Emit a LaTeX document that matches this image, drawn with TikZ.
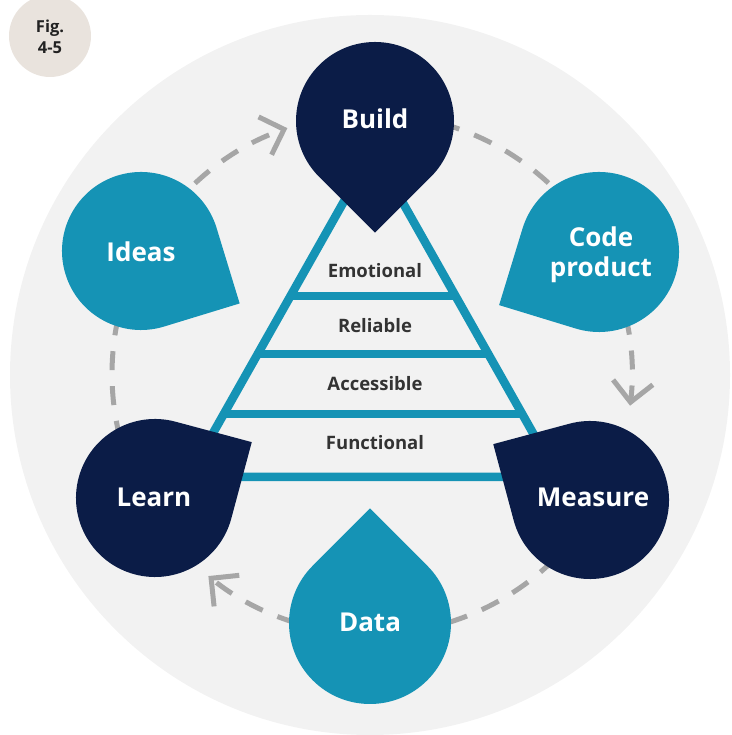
\documentclass[tikz,border=0pt]{standalone}
\usepackage{fontspec}
\setmainfont{Open Sans}
\usetikzlibrary{calc,arrows.meta}
\definecolor{navy}{HTML}{0B1C47}
\definecolor{teal1}{HTML}{1593B5}
\definecolor{bgcirc}{HTML}{F2F2F2}
\definecolor{badge}{HTML}{E9E3DD}
\definecolor{dashgrey}{HTML}{A6A6A6}
\definecolor{txtgrey}{HTML}{333333}
\definecolor{figtxt}{HTML}{222222}
\newcommand\teardrop[4]{% center, radius, tip angle, colour
  \fill[#4] ($(#1)+(#3+45:#2)$) arc[start angle=#3+45, end angle=#3+315, radius=#2]
    -- ($(#1)+(#3:#2*1.41421)$) -- cycle;}
\begin{document}
\begin{tikzpicture}[x=1pt,y=1pt,
  droplabel/.style={text=white,font=\bfseries\fontsize{26}{30}\selectfont,align=center},
  pyrlabel/.style={text=txtgrey,font=\bfseries\fontsize{18.5}{20}\selectfont},
  cyclearc/.style={draw=dashgrey,line width=5pt,dash pattern=on 19pt off 16pt,
    -{Straight Barb[length=20pt,width=40pt]}},
  pyrline/.style={draw=teal1,line width=8.5pt}]
\useasboundingbox (0,0) rectangle (731,735);
% background circle
\fill[bgcirc] (370,360) circle[radius=360];
% badge
\fill[badge] (50,699) circle[radius=41];
\node[font=\bfseries\fontsize{16.5}{21}\selectfont,text=figtxt,align=center] (fig) at (50,698) {Fig.\\4-5};
% cycle arcs
\coordinate (O) at (372,361);
\coordinate (s1) at ($(O)+(90:260)$);
\coordinate (s2) at ($(O)+(-30:260)$);
\coordinate (s3) at ($(O)+(210:260)$);
\draw[cyclearc] (s1) arc[start angle=90, end angle=-7, radius=260];
\draw[cyclearc] (s2) arc[start angle=-30, end angle=-129, radius=260];
\draw[cyclearc] (s3) arc[start angle=210, end angle=109, radius=260];
% pyramid
\coordinate (apex) at (373,585);
\coordinate (bl) at (188.2,258);
\coordinate (br) at (557.8,258);
\draw[pyrline,line join=miter] (apex) -- (bl) -- (br) -- cycle;
\draw[pyrline] (290.5,439) -- (455.5,439);
\draw[pyrline] (257.7,381) -- (488.3,381);
\draw[pyrline] (223.8,321) -- (522.2,321);
\node[pyrlabel] (emo) at (375,464) {Emotional};
\node[pyrlabel] (rel) at (375,409) {Reliable};
\node[pyrlabel] (acc) at (375,351) {Accessible};
\node[pyrlabel] (fun) at (375,292) {Functional};
% teardrops
\coordinate (cBuild) at (375,614);
\coordinate (cCode) at (599,483);
\coordinate (cMeasure) at (590,235);
\coordinate (cData) at (370,112);
\coordinate (cLearn) at (155,237);
\coordinate (cIdeas) at (141,484);
\teardrop{cBuild}{79}{-90}{navy}
\teardrop{cCode}{80}{208}{teal1}
\teardrop{cMeasure}{79}{150}{navy}
\teardrop{cData}{81}{90}{teal1}
\teardrop{cLearn}{79}{30}{navy}
\teardrop{cIdeas}{79}{-28}{teal1}
\node[droplabel] (build) at (375,616) {Build};
\node[droplabel] (code) at (601,480) {Code\\product};
\node[droplabel] (measure) at (593,238) {Measure};
\node[droplabel] (data) at (370,113) {Data};
\node[droplabel] (learn) at (154,238) {Learn};
\node[droplabel] (ideas) at (141,483) {Ideas};
\end{tikzpicture}
\end{document}
